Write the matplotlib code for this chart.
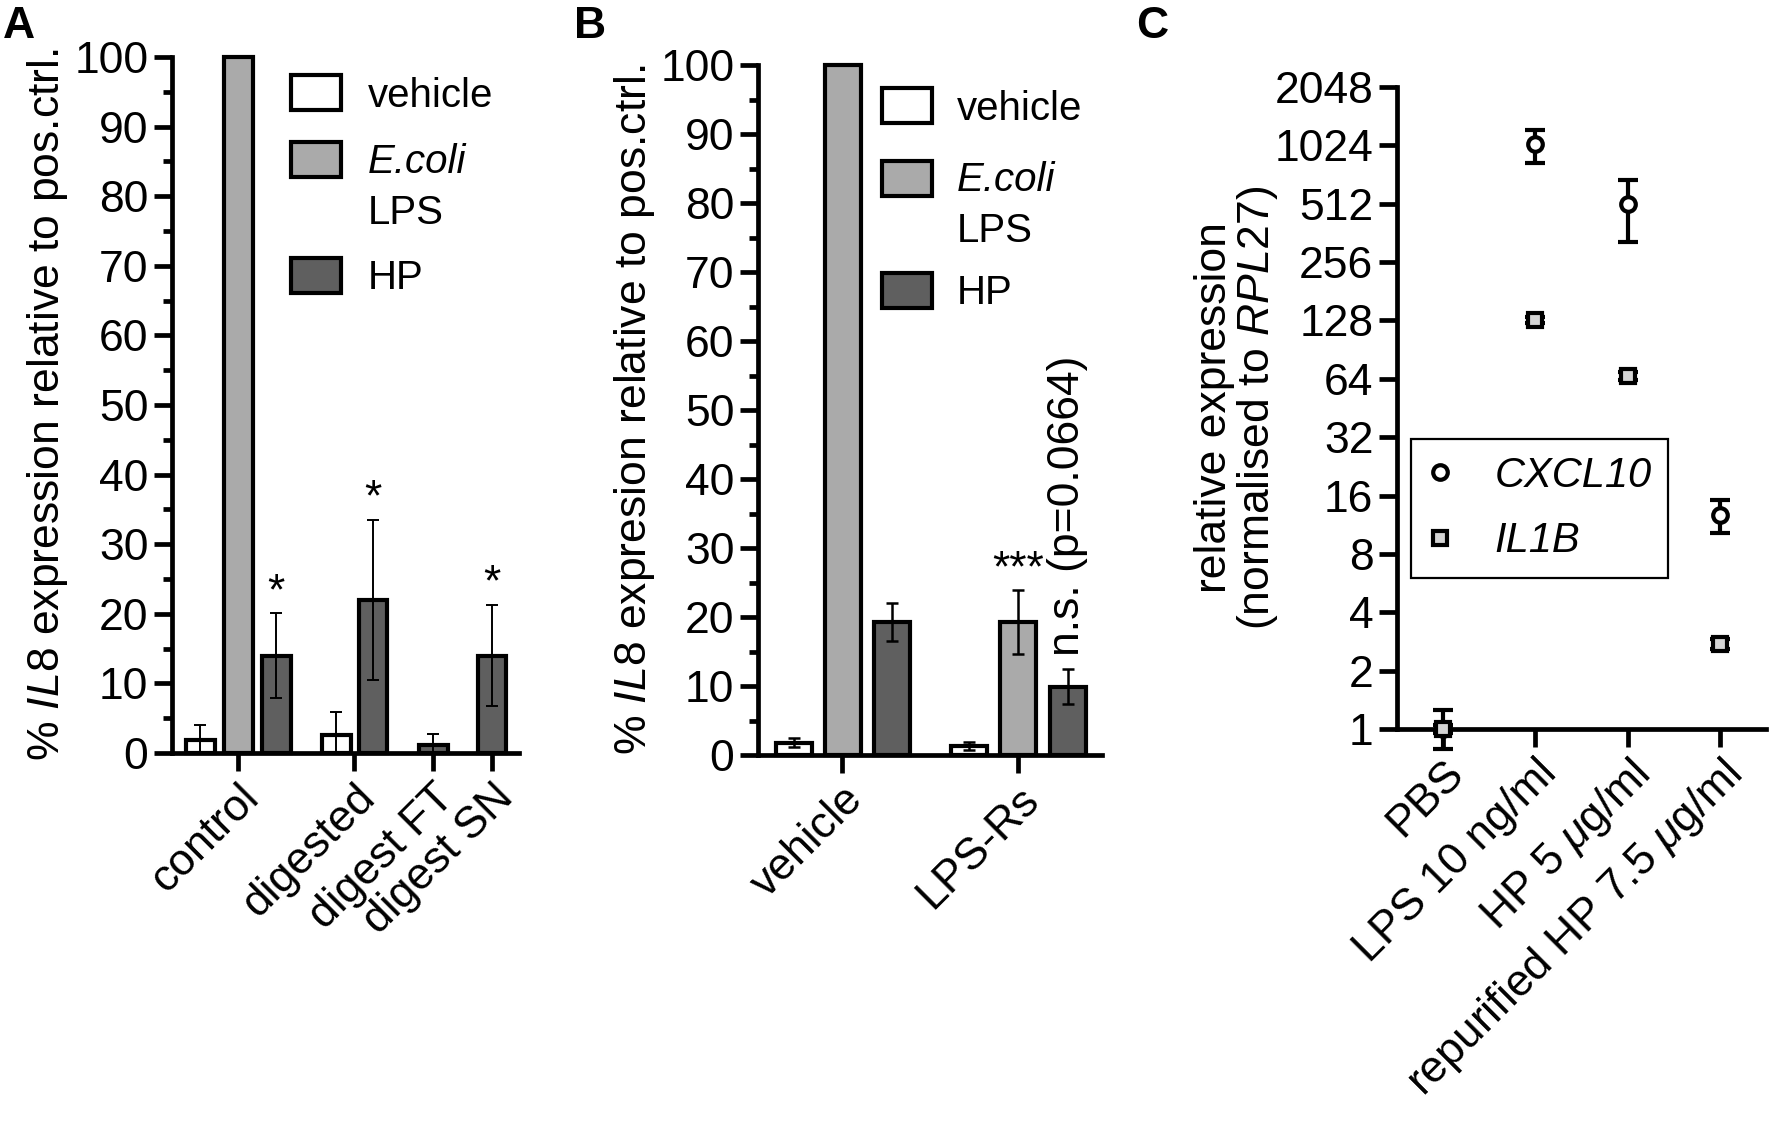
import matplotlib
matplotlib.use("Agg")
import matplotlib.pyplot as plt
from matplotlib.patches import Rectangle
from matplotlib.lines import Line2D
from matplotlib.ticker import MultipleLocator, NullLocator
import numpy as np

plt.rcParams['font.family'] = 'Liberation Sans'
plt.rcParams['mathtext.fontset'] = 'custom'
plt.rcParams['mathtext.rm'] = 'Liberation Sans'
plt.rcParams['mathtext.it'] = 'Liberation Sans:italic'
plt.rcParams['mathtext.bf'] = 'Liberation Sans:bold'

W, H = 1769, 1121
FS = 32          # ticks, axis labels
LFS = 29         # bar legends
SPINE = 3.4
WHITE, LIGHT, DARK = 'white', '#aaaaaa', '#5f5f5f'

# ---- panel A data
a_groups = ['control', 'digested', 'digest FT', 'digest SN']
a_vehicle = [1.8, 2.6, np.nan, np.nan]
a_vehicle_err = [2.2, 3.3, np.nan, np.nan]
a_ecoli = [100.0, np.nan, np.nan, np.nan]
a_ecoli_err = [np.nan, np.nan, np.nan, np.nan]
a_hp = [14.0, 22.0, 1.1, 14.0]
a_hp_err = [6.1, 11.5, 1.6, 7.3]
a_stars = ['*', '*', '', '*']

# ---- panel B data
b_groups = ['vehicle', 'LPS-Rs']
b_vehicle = [1.8, 1.3]
b_vehicle_err = [0.6, 0.6]
b_ecoli = [100.0, 19.3]
b_ecoli_err = [np.nan, 4.6]
b_hp = [19.3, 9.9]
b_hp_err = [2.8, 2.5]

# ---- panel C data
c_conditions = ['PBS', 'LPS 10 ng/ml', 'HP 5 $\\mu$g/ml', 'repurified HP 7.5 $\\mu$g/ml']
c_cxcl10 = [1.0, 1040, 508, 12.7]
c_cxcl10_lo = [0.79, 830, 324, 10.3]
c_cxcl10_hi = [1.25, 1230, 682, 15.2]
c_il1b = [1.0, 129, 66, 2.75]
c_il1b_lo = [0.95, 124, 63, 2.6]
c_il1b_hi = [1.05, 134, 69, 2.9]
c_yticks = [1, 2, 4, 8, 16, 32, 64, 128, 256, 512, 1024, 2048]

# bar slot positions (layout)
pos_a = {'vehicle': [0.0, 3.58, np.nan, np.nan], 'ecoli': [1.0, np.nan, np.nan, np.nan],
         'hp': [2.0, 4.55, 6.13, 7.68]}
tick_a = [1.0, 4.06, 6.13, 7.68]
pos_b = {'vehicle': [0.0, 3.57], 'ecoli': [1.0, 4.57], 'hp': [2.0, 5.59]}
tick_b = [0.98, 4.57]

fig = plt.figure(figsize=(W / 100, H / 100), dpi=100)


def add_axes(l, t, r, b):
    return fig.add_axes([l / W, 1 - b / H, (r - l) / W, (b - t) / H])


def bars(ax, pos, vals, errs, color, width, cap, elw):
    pos, vals, errs = (np.asarray(v, dtype=float) for v in (pos, vals, errs))
    ok = ~np.isnan(vals)
    ax.bar(pos[ok], vals[ok], width, color=color, edgecolor='black',
           linewidth=3.0, clip_on=False, zorder=2)
    e = ok & ~np.isnan(errs)
    if e.any():
        ax.errorbar(pos[e], vals[e], yerr=errs[e], fmt='none', ecolor='black',
                    elinewidth=elw, capsize=cap, capthick=elw, zorder=3)


def style_bar_axes(ax, xlim, ticks, labels):
    ax.set_xlim(*xlim)
    ax.set_ylim(0, 100)
    for s in ('top', 'right'):
        ax.spines[s].set_visible(False)
    for s in ('left', 'bottom'):
        ax.spines[s].set_linewidth(SPINE)
    ax.yaxis.set_major_locator(MultipleLocator(10))
    ax.yaxis.set_minor_locator(MultipleLocator(5))
    ax.tick_params(axis='both', which='major', length=13, width=SPINE, labelsize=FS, pad=4)
    ax.tick_params(axis='y', which='minor', length=6.5, width=SPINE)
    ax.set_xticks(ticks)
    ax.set_xticklabels(labels, rotation=45, ha='right', rotation_mode='anchor')


def bar_legend(box_left, box_tops, text_left, text_rows):
    for top, col in zip(box_tops, (WHITE, LIGHT, DARK)):
        fig.add_artist(Rectangle((box_left / W, 1 - (top + 35) / H), 50 / W, 35 / H,
                                 transform=fig.transFigure, facecolor=col,
                                 edgecolor='black', lw=3.0))
    for (y, s, style) in text_rows:
        fig.text(text_left / W, 1 - y / H, s, fontsize=LFS, style=style,
                 ha='left', va='center')


# ---------------- panel A
axa = add_axes(172, 57, 519, 753)
bars(axa, pos_a['vehicle'], a_vehicle, a_vehicle_err, WHITE, 0.76, 4, 1.4)
bars(axa, pos_a['ecoli'], a_ecoli, a_ecoli_err, LIGHT, 0.76, 4, 1.4)
bars(axa, pos_a['hp'], a_hp, a_hp_err, DARK, 0.76, 4, 1.4)
for p, v, e, s in zip(pos_a['hp'], a_hp, a_hp_err, a_stars):
    if s:
        axa.text(p, v + e, s, ha='center', va='bottom', fontsize=FS)
style_bar_axes(axa, (-0.74, 8.39), tick_a, a_groups)
axa.set_ylabel('% $\\mathit{IL8}$ expression relative to pos.ctrl.', fontsize=FS)
axa.yaxis.set_label_coords(-0.294, 0.5)
bar_legend(291, (75, 142, 258), 368,
           [(96, 'vehicle', 'normal'), (162, 'E.coli', 'italic'),
            (213, 'LPS', 'normal'), (278, 'HP', 'normal')])

# ---------------- panel B
axb = add_axes(758, 65, 1102, 755)
bars(axb, pos_b['vehicle'], b_vehicle, b_vehicle_err, WHITE, 0.73, 4.5, 1.8)
bars(axb, pos_b['ecoli'], b_ecoli, b_ecoli_err, LIGHT, 0.73, 4.5, 1.8)
bars(axb, pos_b['hp'], b_hp, b_hp_err, DARK, 0.73, 4.5, 1.8)
axb.text(pos_b['ecoli'][1], b_ecoli[1] + b_ecoli_err[1], '***', ha='center',
         va='bottom', fontsize=FS)
axb.text(pos_b['hp'][1], b_hp[1] + b_hp_err[1] + 2, 'n.s. (p=0.0664)', rotation=90,
         ha='center', va='bottom', fontsize=FS)
style_bar_axes(axb, (-0.73, 6.29), tick_b, b_groups)
axb.set_ylabel('% $\\mathit{IL8}$ expresion relative to pos.ctrl.', fontsize=FS)
axb.yaxis.set_label_coords(-0.294, 0.5)
bar_legend(882, (88, 161, 273), 957,
           [(109, 'vehicle', 'normal'), (180, 'E.coli', 'italic'),
            (231, 'LPS', 'normal'), (293, 'HP', 'normal')])

# ---------------- panel C
axc = add_axes(1397, 87, 1766, 729)
axc.set_yscale('log', base=2)
x = np.arange(len(c_conditions))
series = [
    (c_cxcl10, c_cxcl10_lo, c_cxcl10_hi, 'o', 'white'),
    (c_il1b, c_il1b_lo, c_il1b_hi, 's', '#d4d4d4'),
]
for mean, lo, hi, mk, fc in series:
    mean, lo, hi = (np.asarray(v, dtype=float) for v in (mean, lo, hi))
    cont = axc.errorbar(x, mean, yerr=[mean - lo, hi - mean], fmt=mk, ms=10.5, mfc=fc,
                        mec='black', mew=3.0, ecolor='black', elinewidth=3.0,
                        capsize=7, capthick=3.0, zorder=3)
    cont.lines[0].set_clip_on(False)
    for art in list(cont.lines[1]) + list(cont.lines[2]):
        art.set_clip_on(False)
axc.set_xlim(-0.5, 3.5)
axc.set_ylim(1, 2048)
axc.set_yticks(c_yticks)
axc.set_yticklabels([str(v) for v in c_yticks])
axc.yaxis.set_minor_locator(NullLocator())
for s in ('top', 'right'):
    axc.spines[s].set_visible(False)
for s in ('left', 'bottom'):
    axc.spines[s].set_linewidth(SPINE)
axc.tick_params(axis='both', which='major', length=13, width=SPINE, labelsize=FS, pad=4)
axc.set_xticks(x)
axc.set_xticklabels(c_conditions, rotation=45, ha='right', rotation_mode='anchor')
axc.set_ylabel('relative expression\n(normalised to $\\mathit{RPL27}$)', fontsize=FS,
               linespacing=1.0)
axc.yaxis.set_label_coords(-0.318, 0.5)
handles = [Line2D([], [], ls='none', marker='o', ms=10.5, mfc='white', mec='black', mew=3.0),
           Line2D([], [], ls='none', marker='s', ms=10.5, mfc='#d4d4d4', mec='black', mew=3.0)]
leg = axc.legend(handles, ['CXCL10', 'IL1B'], prop={'style': 'italic', 'size': 30},
                 loc='upper left', bbox_to_anchor=((1411 - 1397) / 369, (729 - 439) / 642),
                 frameon=True, fancybox=False, edgecolor='black', framealpha=1,
                 borderpad=0.4, handlelength=0.6, handletextpad=1.0, labelspacing=0.62,
                 borderaxespad=0)
leg.get_frame().set_linewidth(1.6)

# panel letters
for px, letter in ((3, 'A'), (574, 'B'), (1136, 'C')):
    fig.text(px / W, 1 - 6 / H, letter, fontsize=32, fontweight='bold', va='top', ha='left')

fig.savefig('out.png', dpi=100)
